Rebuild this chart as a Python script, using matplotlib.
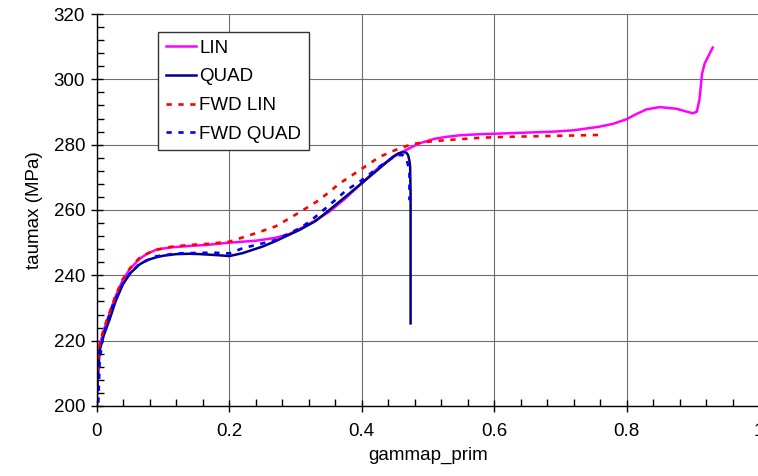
import matplotlib.pyplot as plt
import numpy as np
from matplotlib.ticker import MultipleLocator, FormatStrFormatter

plt.rcParams['font.family'] = ['Liberation Sans', 'DejaVu Sans']

# LIN (magenta)
lin_x = [0.0, 0.002, 0.004, 0.01, 0.019, 0.028, 0.039, 0.05, 0.064, 0.075, 0.089, 0.1,
         0.114, 0.14, 0.165, 0.2, 0.24, 0.27, 0.29, 0.306, 0.33, 0.351, 0.375, 0.397,
         0.427, 0.457, 0.487, 0.51, 0.528, 0.55, 0.578, 0.608, 0.65, 0.69, 0.72, 0.759,
         0.78, 0.8, 0.815, 0.83, 0.85, 0.875, 0.9, 0.906, 0.91, 0.912, 0.914, 0.918,
         0.923, 0.93]
lin_y = [205, 213, 218.5, 223, 228.4, 233.5, 238.6, 242, 245, 246.5, 247.8, 248.2,
         248.6, 249, 249.3, 250, 250.6, 251.5, 252.6, 254.2, 256.8, 259.5, 263.5, 267.7,
         273.3, 277.4, 280.4, 281.8, 282.4, 282.9, 283.2, 283.4, 283.7, 284.0, 284.4, 285.5,
         286.4, 287.8, 289.4, 290.8, 291.5, 291.0, 289.6, 290.1, 293.7, 297.7, 301.8, 304.9,
         306.9, 309.7]

# QUAD (navy)
quad_x = [0.0, 0.002, 0.004, 0.01, 0.019, 0.028, 0.039, 0.05, 0.064, 0.075, 0.089, 0.1,
          0.12, 0.14, 0.155, 0.18, 0.2, 0.22, 0.25, 0.27, 0.29, 0.306, 0.33, 0.351, 0.375,
          0.397, 0.427, 0.447, 0.455, 0.462, 0.467, 0.47, 0.472, 0.473, 0.4737, 0.4737]
quad_y = [203, 211, 217, 221.5, 226.5, 232, 237.2, 240.6, 243.3, 244.6, 245.5, 246,
          246.5, 246.6, 246.5, 246.2, 245.9, 246.8, 248.8, 250.5, 252.4, 253.9, 256.6, 260,
          264, 267.7, 272.8, 276.3, 277.3, 277.7, 277.6, 276.8, 275, 273.3, 265, 225.3]

# FWD LIN (red dashed)
fwdlin_x = [0.0, 0.002, 0.004, 0.01, 0.019, 0.028, 0.039, 0.05, 0.064, 0.075, 0.089, 0.1,
            0.114, 0.14, 0.165, 0.2, 0.24, 0.27, 0.306, 0.336, 0.367, 0.397, 0.427, 0.457,
            0.477, 0.5, 0.528, 0.578, 0.618, 0.67, 0.719, 0.765]
fwdlin_y = [207, 214, 219, 223.5, 228.6, 233.8, 238.8, 242.2, 245.3, 246.6, 247.8, 248.3,
            248.8, 249.3, 249.6, 250.3, 252.9, 255.0, 259.3, 263.1, 268.2, 272.2, 276.3, 278.9,
            280.2, 280.9, 281.4, 282.1, 282.4, 282.6, 282.8, 283.0]

# FWD QUAD (blue dashed)
fwdquad_x = [0.002, 0.003, 0.004, 0.008, 0.015, 0.025, 0.039, 0.05, 0.064, 0.089, 0.12,
             0.16, 0.18, 0.2, 0.21, 0.22, 0.25, 0.27, 0.306, 0.321, 0.351, 0.377, 0.397,
             0.427, 0.452, 0.462, 0.467, 0.472, 0.472]
fwdquad_y = [201, 207, 214, 220, 225.5, 231.5, 237.5, 240.6, 243.5, 245.8, 246.7,
             246.9, 246.9, 246.7, 247.5, 248.3, 249.8, 250.8, 254.4, 256.4, 261.5, 266.1, 268.7,
             273.3, 276.8, 276.8, 275.8, 272.2, 263]

fig = plt.figure(figsize=(7.58, 4.76), dpi=100)
ax = fig.add_axes([97 / 758, 70 / 476, 662 / 758, 392 / 476])

ax.plot(lin_x, lin_y, color='#ff00ff', lw=1.8, label='LIN')
ax.plot(quad_x, quad_y, color='#000080', lw=1.8, label='QUAD')
ax.plot(fwdlin_x, fwdlin_y, color='#ff0000', lw=1.9, ls=(0, (2, 2.5)), label='FWD LIN')
ax.plot(fwdquad_x, fwdquad_y, color='#0000ff', lw=1.9, ls=(0, (2, 2.5)), label='FWD QUAD')

ax.set_xlim(0, 1)
ax.set_ylim(200, 320)
ax.xaxis.set_major_locator(MultipleLocator(0.2))
ax.xaxis.set_minor_locator(MultipleLocator(0.04))
ax.yaxis.set_major_locator(MultipleLocator(20))
ax.yaxis.set_minor_locator(MultipleLocator(4))
ax.xaxis.set_major_formatter(FormatStrFormatter('%g'))

ax.grid(True, which='major', color='#6e6e6e', lw=0.8)
ax.set_axisbelow(True)
for s in ['top', 'right']:
    ax.spines[s].set_visible(False)
for s in ['left', 'bottom']:
    ax.spines[s].set_linewidth(1.0)

ax.tick_params(which='major', direction='inout', length=9, width=1, labelsize=13.5, pad=4)
ax.tick_params(which='minor', direction='in', length=5, width=1)
ax.tick_params(axis='x', pad=8)

ax.set_xlabel('gammap_prim', fontsize=13.5, labelpad=5)
ax.set_ylabel('taumax (MPa)', fontsize=13.5, labelpad=8)

leg = ax.legend(loc='upper left', bbox_to_anchor=(158 / 758, 1 - 32 / 476),
                bbox_transform=fig.transFigure, borderaxespad=0, fontsize=13.5,
                fancybox=False, framealpha=1, edgecolor='#333333', handlelength=1.6,
                handletextpad=0.2, labelspacing=0.62, borderpad=0.4)
leg.get_frame().set_linewidth(1.0)

fig.savefig('out.png', dpi=100)
